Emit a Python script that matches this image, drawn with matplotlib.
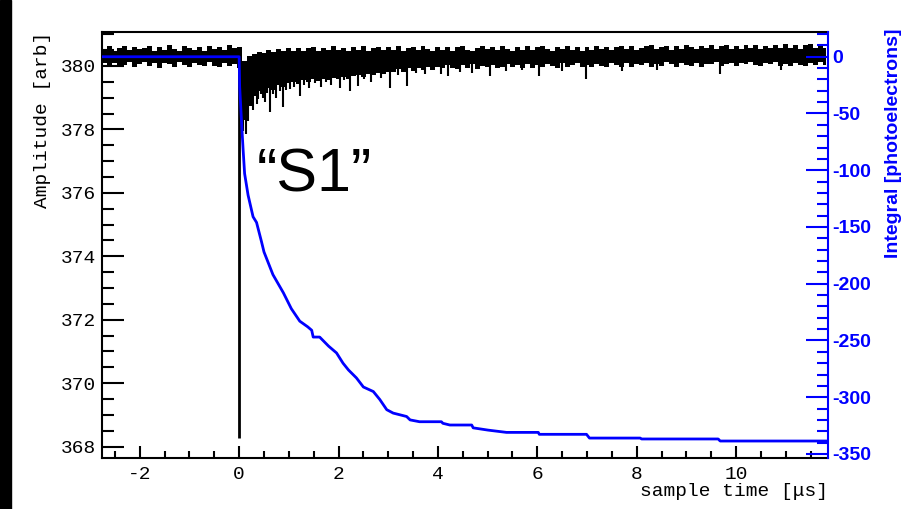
import numpy as np
import matplotlib
matplotlib.use("Agg")
import matplotlib.pyplot as plt
from matplotlib.patches import Rectangle
from matplotlib.ticker import MultipleLocator

plt.rcParams['axes.unicode_minus'] = False

# black trace: noise band, 0.1 us per sample from -2.8 to 11.8
t_grid = np.round(np.arange(-2.8, 11.81, 0.1), 2)

amp_upper = [
    # -2.8 .. -0.1
    380.58, 380.50, 380.62, 380.47, 380.57, 380.64, 380.49, 380.59, 380.52, 380.56,
    380.63, 380.48, 380.60, 380.51, 380.65, 380.53, 380.47, 380.62, 380.57, 380.50,
    380.61, 380.48, 380.64, 380.52, 380.60, 380.49, 380.66, 380.55,
    # 0.0
    380.60,
    # 0.1 .. 1.0
    380.15, 380.30, 380.38, 380.45, 380.40, 380.50, 380.44, 380.52, 380.48, 380.55,
    # 1.1 .. 11.8
    380.47, 380.58, 380.46, 380.55, 380.60, 380.48, 380.57, 380.49, 380.62, 380.50,
    380.58, 380.47, 380.60, 380.51, 380.63, 380.48, 380.57, 380.61, 380.49, 380.59,
    380.50, 380.62, 380.48, 380.58, 380.60, 380.50, 380.63, 380.52, 380.47, 380.60,
    380.51, 380.61, 380.48, 380.59, 380.62, 380.50, 380.47, 380.58, 380.63, 380.52,
    380.60, 380.49, 380.62, 380.53, 380.48, 380.61, 380.51, 380.64, 380.50, 380.59,
    380.62, 380.52, 380.48, 380.60, 380.53, 380.63, 380.50, 380.61, 380.48, 380.59,
    380.51, 380.64, 380.53, 380.61, 380.49, 380.60, 380.63, 380.52, 380.62, 380.50,
    380.55, 380.62, 380.66, 380.52, 380.61, 380.64, 380.51, 380.63, 380.54, 380.65,
    380.61, 380.52, 380.64, 380.55, 380.66, 380.52, 380.63, 380.67, 380.54, 380.64,
    380.53, 380.65, 380.56, 380.67, 380.52, 380.64, 380.55, 380.66, 380.57, 380.68,
    380.56, 380.66, 380.53, 380.65, 380.69, 380.57, 380.67, 380.58,
]

amp_lower = [
    # -2.8 .. -0.1
    380.02, 380.10, 379.98, 380.08, 379.96, 380.04, 380.11, 379.97, 380.06, 380.12,
    379.99, 380.09, 379.95, 380.10, 380.05, 379.98, 380.12, 380.04, 379.97, 380.09,
    380.03, 379.99, 380.11, 380.01, 379.98, 380.10, 380.00, 380.07,
    # 0.0
    379.95,
    # 0.1 .. 1.0
    378.40, 378.75, 379.05, 379.20, 379.10, 379.30, 379.25, 379.40, 379.35, 379.45,
    # 1.1 .. 11.8
    379.50, 379.42, 379.55, 379.48, 379.58, 379.52, 379.60, 379.55, 379.62, 379.58,
    379.65, 379.60, 379.68, 379.72, 379.66, 379.75, 379.70, 379.78, 379.74, 379.80,
    379.82, 379.90, 379.80, 379.93, 379.84, 379.95, 379.86, 379.97, 379.88, 379.96,
    379.92, 380.02, 379.94, 379.90, 380.03, 379.92, 380.05, 379.90, 380.01, 379.97,
    380.04, 379.92, 379.98, 380.06, 379.96, 380.03, 379.93, 380.07, 379.95, 380.02,
    379.96, 380.06, 380.01, 379.95, 380.08, 379.97, 380.02, 380.09, 379.98, 380.04,
    379.97, 380.07, 379.99, 379.96, 380.08, 380.03, 379.98, 380.09, 379.97, 380.05,
    380.04, 380.10, 379.98, 380.06, 380.01, 380.11, 380.05, 379.98, 380.08, 380.03,
    380.00, 380.09, 379.98, 380.07, 380.05, 380.12, 379.99, 380.06, 380.10, 380.00,
    380.08, 380.05, 380.11, 380.04, 379.99, 380.09, 380.06, 380.12, 380.00, 380.07,
    380.01, 380.10, 380.03, 379.99, 380.09, 380.02, 380.11, 380.03,
]

# single photoelectron spikes (time, lowest amplitude)
spike_t = [0.03, 0.05, 0.08, 0.10, 0.13, 0.15, 0.17, 0.21, 0.24, 0.27, 0.31, 0.35,
           0.38, 0.44, 0.48, 0.52, 0.57, 0.62, 0.68, 0.75, 0.82, 0.89, 0.95, 1.02,
           1.10, 1.22, 1.30, 1.40, 1.52, 1.65, 1.75, 1.85, 2.03, 2.12, 2.23, 2.40,
           2.52, 2.65, 2.85, 3.03, 3.20, 3.37, 3.55, 3.75, 4.07, 4.21, 4.45, 4.68,
           5.05, 5.38, 5.70, 6.04, 6.50, 6.99, 7.70, 8.40, 9.67, 10.90]
spike_min = [378.50, 378.10, 377.95, 378.30, 377.85, 378.45, 378.27, 378.90, 379.00,
             378.60, 379.05, 378.80, 378.95, 379.10, 379.00, 378.85, 379.15, 378.56,
             379.10, 379.00, 379.20, 378.70, 379.25, 379.27, 379.35, 379.06, 379.40,
             379.30, 379.45, 379.35, 379.50, 379.40, 379.32, 379.55, 379.21, 379.37,
             379.60, 379.50, 379.62, 379.32, 379.70, 379.37, 379.78, 379.75, 379.74,
             379.69, 379.82, 379.79, 379.69, 379.84, 379.86, 379.69, 379.85, 379.58,
             379.85, 379.88, 379.74, 379.86]

# the big S1 pulse
pulse_t = 0.0
pulse_min = 368.26
baseline = 380.29

# blue integral [photoelectrons]
int_t = [-2.8, 0.0, 0.01, 0.05, 0.08, 0.11, 0.18, 0.28, 0.35, 0.45, 0.50, 0.68, 0.89,
         1.05, 1.22, 1.38, 1.46, 1.49, 1.62, 1.80, 1.96, 2.09, 2.20, 2.36, 2.50, 2.70,
         2.83, 2.97, 3.10, 3.37, 3.44, 3.63, 4.07, 4.10, 4.24, 4.68, 4.71, 5.01, 5.38,
         6.02, 6.04, 6.99, 7.05, 8.07, 8.10, 9.64, 9.68, 11.85]
int_val = [0, 0, -26, -59, -82, -103, -122, -141, -146, -163, -172, -192, -208,
           -222, -233, -238, -241, -247, -247, -255, -261, -270, -276, -283, -291, -295,
           -302, -311, -314, -317, -320, -321.6, -321.6, -323, -324.5, -324.5, -327, -329, -331,
           -331, -332.7, -332.7, -336, -336, -336.8, -336.8, -338.6, -338.6]

left_ticks = [368, 370, 372, 374, 376, 378, 380]
right_ticks = [-350, -300, -250, -200, -150, -100, -50, 0]
x_ticks = [-2, 0, 2, 4, 6, 8, 10]

mono = 'Liberation Mono'
sans = 'Liberation Sans'

fig = plt.figure(figsize=(9.02, 5.09), dpi=100)
ax = fig.add_axes([101.5 / 902, 51.3 / 509, 726.5 / 902, 425.7 / 509])

# noise band drawn as ragged steps, spikes on top
ax.fill_between(t_grid, amp_lower, amp_upper, step='mid', color='black', lw=0)
ax.vlines(spike_t, spike_min, 380.1, color='black', lw=1.5)
ax.vlines([pulse_t], pulse_min, baseline, color='black', lw=2.0)

ax.set_xlim(-2.77, 11.85)
ax.set_ylim(367.65, 381.07)

ax.set_xticks(x_ticks)
ax.set_xticklabels([str(v) for v in x_ticks], family=mono, fontsize=14)
ax.set_yticks(left_ticks)
ax.set_yticklabels([str(v) for v in left_ticks], family=mono, fontsize=14)
ax.xaxis.set_minor_locator(MultipleLocator(0.5))
ax.yaxis.set_minor_locator(MultipleLocator(0.5))
ax.tick_params(axis='x', which='major', direction='in', length=9, width=1.5, pad=6)
ax.tick_params(axis='x', which='minor', direction='in', length=5, width=1.5)
ax.tick_params(axis='y', which='major', direction='in', length=16, width=1.5, pad=4)
ax.tick_params(axis='y', which='minor', direction='in', length=8.5, width=1.5)
for s in ['left', 'bottom', 'top']:
    ax.spines[s].set_linewidth(1.5)
ax.spines['right'].set_visible(False)

ax2 = ax.twinx()
ax2.plot(int_t, int_val, color='blue', lw=2)
ax2.set_ylim(-353.3, 21.8)
ax2.set_yticks(right_ticks)
ax2.set_yticklabels([str(v) for v in right_ticks], family=sans, fontsize=14,
                    fontweight='bold', color='blue')
ax2.yaxis.set_minor_locator(MultipleLocator(10))
ax2.tick_params(axis='y', which='major', direction='in', length=16, width=1.5,
                colors='blue', pad=3)
ax2.tick_params(axis='y', which='minor', direction='in', length=8, width=1.5, colors='blue')
for s in ['left', 'bottom', 'top']:
    ax2.spines[s].set_visible(False)
ax2.spines['right'].set_color('blue')
ax2.spines['right'].set_linewidth(1.5)

# titles placed like ROOT does (at the axis ends)
fig.text(43 / 902, 1 - 32 / 509, 'Amplitude [arb]', family=mono, fontsize=14,
         rotation=90, ha='center', va='top')
fig.text(828 / 902, 1 - 492 / 509, 'sample time [\u03bcs]', family=mono, fontsize=14,
         ha='right', va='center')
fig.text(885 / 902, 1 - 28 / 509, 'Integral [photoelectrons]', family=sans, fontsize=14,
         fontweight='bold', color='blue', rotation=90, ha='left', va='top')

fig.text(257 / 902, 1 - 191.5 / 509, '\u201cS1\u201d', family=sans, fontsize=44,
         ha='left', va='baseline')

# black strip at the left edge of the slide
fig.patches.append(Rectangle((0, 0), 11 / 902, 1, transform=fig.transFigure,
                             color='black', zorder=10))

fig.savefig('out.png', dpi=100)
